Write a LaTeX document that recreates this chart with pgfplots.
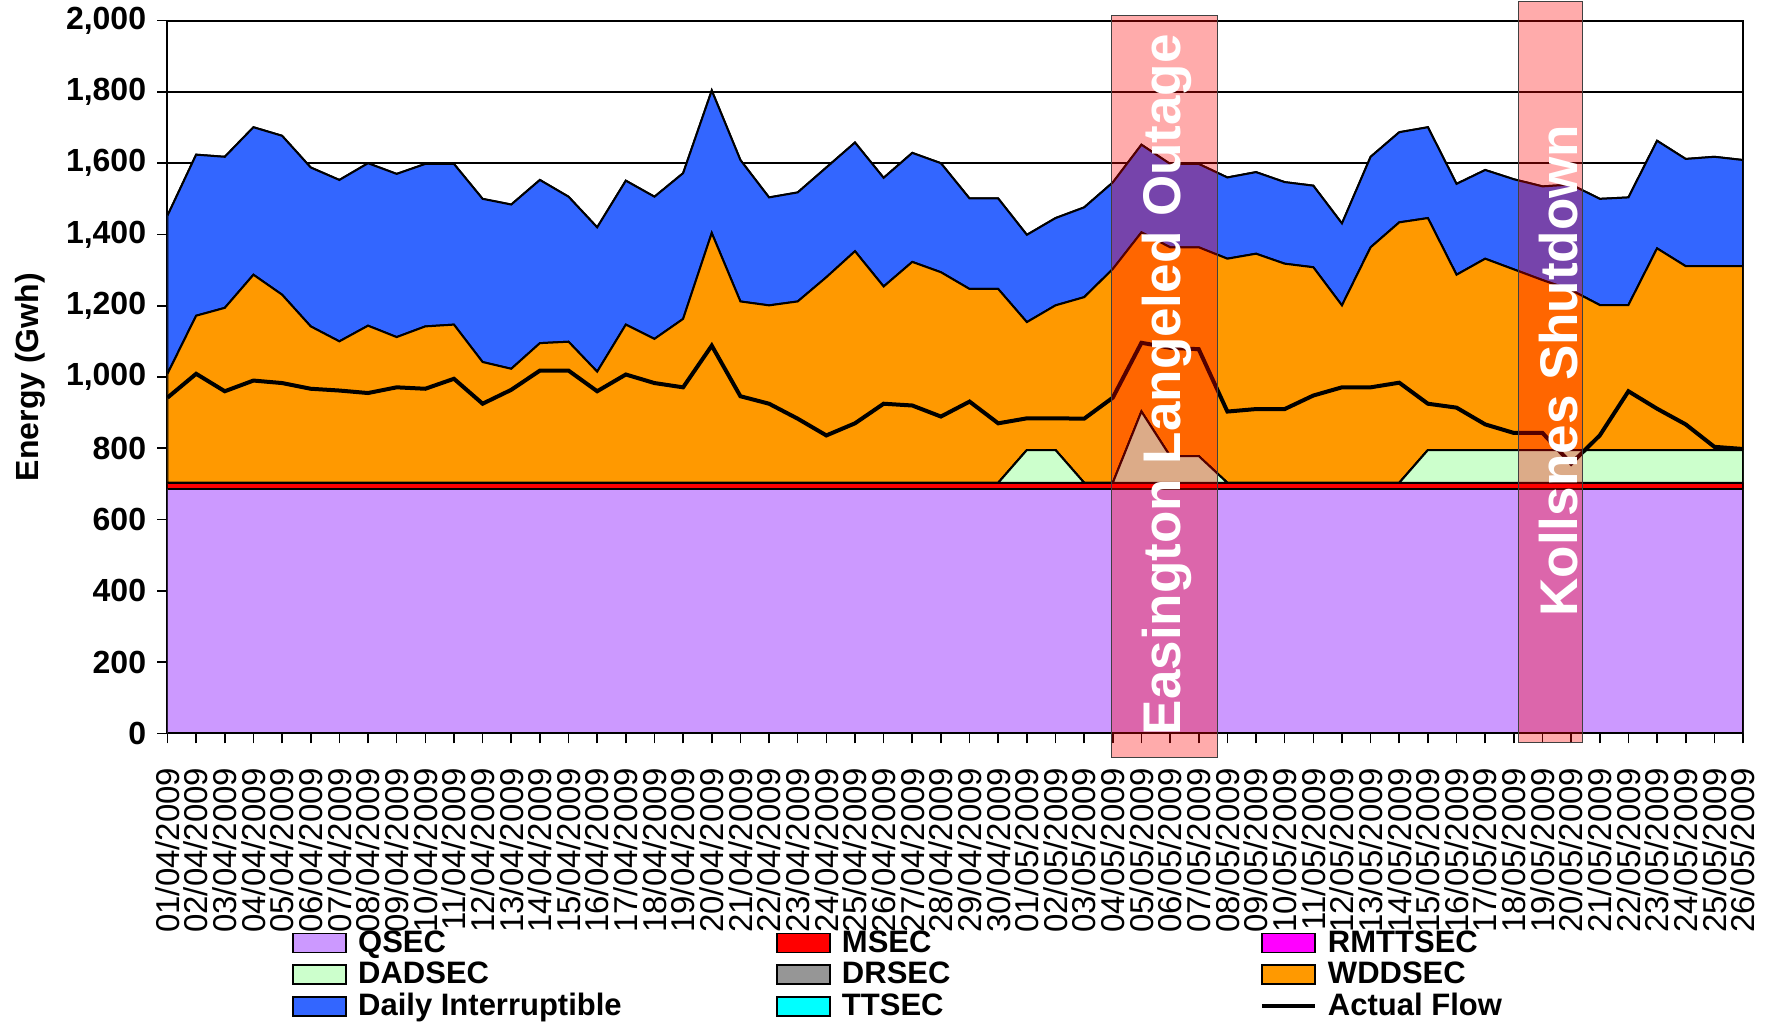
\documentclass[border=0pt]{standalone}
\usepackage{fontspec}
\setmainfont{Liberation Sans}
\usepackage{pgfplots}
\usepackage{pgfplotstable}
\pgfplotsset{compat=1.18}

\definecolor{qsec}{RGB}{204,153,255}
\definecolor{msec}{RGB}{255,0,0}
\definecolor{rmttsec}{RGB}{255,0,255}
\definecolor{dadsec}{RGB}{204,255,204}
\definecolor{drsec}{RGB}{150,150,150}
\definecolor{wddsec}{RGB}{255,153,0}
\definecolor{dint}{RGB}{51,102,255}
\definecolor{ttsec}{RGB}{0,255,255}

\pgfplotstableread{
i QSEC MSEC RMTTSEC DADSEC DRSEC WDDSEC DI TTSEC Flow
0 687 16 0 0 0 306 444 0 942
1 687 16 0 0 0 469 452 0 1009
2 687 16 0 0 0 491 424 0 960
3 687 16 0 0 0 584 414 0 990
4 687 16 0 0 0 528 446 0 983
5 687 16 0 0 0 439 446 0 967
6 687 16 0 0 0 397 453 0 962
7 687 16 0 0 0 441 456 0 955
8 687 16 0 0 0 409 458 0 971
9 687 16 0 0 0 439 456 0 967
10 687 16 0 0 0 444 451 0 995
11 687 16 0 0 0 339 458 0 925
12 687 16 0 0 0 320 461 0 964
13 687 16 0 0 0 392 458 0 1018
14 687 16 0 0 0 396 407 0 1018
15 687 16 0 0 0 312 405 0 960
16 687 16 0 0 0 444 404 0 1007
17 687 16 0 0 0 404 399 0 983
18 687 16 0 0 0 460 409 0 971
19 687 16 0 0 0 701 400 0 1088
20 687 16 0 0 0 509 397 0 946
21 687 16 0 0 0 498 303 0 925
22 687 16 0 0 0 509 306 0 883
23 687 16 0 0 0 577 308 0 836
24 687 16 0 0 0 650 305 0 870
25 687 16 0 0 0 551 305 0 925
26 687 16 0 0 0 620 306 0 920
27 687 16 0 0 0 591 306 0 889
28 687 16 0 0 0 544 254 0 931
29 687 16 0 0 0 544 254 0 870
30 687 16 0 92 0 359 245 0 884
31 687 16 0 92 0 406 245 0 884
32 687 16 0 0 0 521 252 0 883
33 687 16 0 0 0 600 243 0 942
34 687 16 0 200 0 503 246 0 1096
35 687 16 0 75 0 586 234 0 1082
36 687 16 0 75 0 586 234 0 1078
37 687 16 0 0 0 629 228 0 903
38 687 16 0 0 0 643 229 0 910
39 687 16 0 0 0 615 229 0 910
40 687 16 0 0 0 605 229 0 948
41 687 16 0 0 0 498 230 0 971
42 687 16 0 0 0 661 254 0 971
43 687 16 0 0 0 731 253 0 984
44 687 16 0 92 0 651 255 0 925
45 687 16 0 92 0 492 255 0 914
46 687 16 0 92 0 537 249 0 867
47 687 16 0 92 0 507 253 0 843
48 687 16 0 92 0 477 263 0 843
49 687 16 0 92 0 449 296 0 757
50 687 16 0 92 0 407 298 0 836
51 687 16 0 92 0 407 302 0 960
52 687 16 0 92 0 566 302 0 911
53 687 16 0 92 0 516 301 0 867
54 687 16 0 92 0 516 307 0 804
55 687 16 0 92 0 516 298 0 798
}\data

\pgfplotsset{
  boxleg/.style={legend image code/.code={\draw[##1, draw=black, line width=0.9pt] (0pt,-4.75pt) rectangle (26.5pt,4.75pt);}},
  lineleg/.style={legend image code/.code={\draw[##1] (0pt,0pt) -- (26.5pt,0pt);}},
}

\begin{document}
\begin{tikzpicture}
\useasboundingbox (-83.75pt,-144.85pt) rectangle (803.25pt,366.65pt);
\begin{axis}[
  scale only axis, width=787.75pt, height=356.3pt,
  xmin=0, xmax=55, ymin=0, ymax=2000,
  xtick={0,...,55},
  xticklabels={01/04/2009,02/04/2009,03/04/2009,04/04/2009,05/04/2009,06/04/2009,07/04/2009,08/04/2009,09/04/2009,10/04/2009,11/04/2009,12/04/2009,13/04/2009,14/04/2009,15/04/2009,16/04/2009,17/04/2009,18/04/2009,19/04/2009,20/04/2009,21/04/2009,22/04/2009,23/04/2009,24/04/2009,25/04/2009,26/04/2009,27/04/2009,28/04/2009,29/04/2009,30/04/2009,01/05/2009,02/05/2009,03/05/2009,04/05/2009,05/05/2009,06/05/2009,07/05/2009,08/05/2009,09/05/2009,10/05/2009,11/05/2009,12/05/2009,13/05/2009,14/05/2009,15/05/2009,16/05/2009,17/05/2009,18/05/2009,19/05/2009,20/05/2009,21/05/2009,22/05/2009,23/05/2009,24/05/2009,25/05/2009,26/05/2009},
  ytick={0,200,...,2000},
  tick pos=left,
  tick align=outside, major tick length=5pt,
  tick style={black, line width=0.8pt},
  ymajorgrids, grid style={black, line width=0.8pt},
  axis line style={black, line width=1pt},
  stack plots=y,
  xticklabel style={rotate=90, anchor=east, inner sep=0pt, xshift=-12pt, font=\fontsize{16.5}{18}\selectfont},
  yticklabel style={inner sep=0pt, xshift=-5.5pt, font=\fontsize{16}{18}\selectfont\bfseries},
  /pgf/number format/.cd, 1000 sep={,}, assume math mode=true, /pgfplots/.cd,
  every axis y label/.style={at={(rel axis cs:0,0.5)}, rotate=90, anchor=center, yshift=68.5pt, font=\fontsize{16}{18}\selectfont\bfseries},
  ylabel={Energy (Gwh)},
  legend columns=3, legend cell align=left,
  legend style={at={(0,0)}, anchor=north west, xshift=62.25pt, yshift=-96.7pt, draw=none, fill=none, inner sep=0pt, row sep=0pt,
    nodes={inner sep=0pt, text height=12.5pt, text depth=3.35pt, font=\fontsize{15.5}{18}\selectfont\bfseries},
    /tikz/every odd column/.append style={column sep=5.5pt}},
]
\addplot[fill=qsec, draw=black, line width=1pt, boxleg] table[x=i,y=QSEC]{\data} \closedcycle;
\addlegendentry{\makebox[209pt][l]{QSEC}}
\addplot[fill=msec, draw=black, line width=1pt, boxleg] table[x=i,y=MSEC]{\data} \closedcycle;
\addlegendentry{\makebox[209pt][l]{MSEC}}
\addplot[fill=rmttsec, draw=black, line width=1pt, boxleg] table[x=i,y=RMTTSEC]{\data} \closedcycle;
\addlegendentry{RMTTSEC}
\addplot[fill=dadsec, draw=black, line width=1pt, boxleg] table[x=i,y=DADSEC]{\data} \closedcycle;
\addlegendentry{\makebox[209pt][l]{DADSEC}}
\addplot[fill=drsec, draw=black, line width=1pt, boxleg] table[x=i,y=DRSEC]{\data} \closedcycle;
\addlegendentry{\makebox[209pt][l]{DRSEC}}
\addplot[fill=wddsec, draw=black, line width=1pt, boxleg] table[x=i,y=WDDSEC]{\data} \closedcycle;
\addlegendentry{WDDSEC}
\addplot[fill=dint, draw=black, line width=1pt, boxleg] table[x=i,y=DI]{\data} \closedcycle;
\addlegendentry{\makebox[209pt][l]{Daily Interruptible}}
\addplot[fill=ttsec, draw=black, line width=1pt, boxleg] table[x=i,y=TTSEC]{\data} \closedcycle;
\addlegendentry{\makebox[209pt][l]{TTSEC}}
\addlegendimage{black, line width=2pt, lineleg}
\addlegendentry{Actual Flow}
\end{axis}
\begin{axis}[
  scale only axis, width=787.75pt, height=356.3pt,
  xmin=0, xmax=55, ymin=0, ymax=2000,
  hide axis, clip=false,
]
\addplot[black, line width=2pt, mark=none] table[x=i,y=Flow]{\data};
\fill[red, fill opacity=0.33] (axis cs:32.97,-67) rectangle (axis cs:36.66,2014);
\draw[black!75, line width=0.5pt] (axis cs:32.97,-67) rectangle (axis cs:36.66,2014);
\fill[red, fill opacity=0.33] (axis cs:47.16,-25) rectangle (axis cs:49.4,2053);
\draw[black!75, line width=0.5pt] (axis cs:47.16,-25) rectangle (axis cs:49.4,2053);
\node[rotate=90, anchor=west, inner sep=0pt, text=white, font=\fontsize{26.5}{30}\selectfont\bfseries] at (axis cs:34.9,-6) {Easington Langeled Outage};
\node[rotate=90, anchor=west, inner sep=0pt, text=white, font=\fontsize{26.5}{30}\selectfont\bfseries] at (axis cs:48.56,327) {Kollsnes Shutdown};
\end{axis}
\end{tikzpicture}
\end{document}
